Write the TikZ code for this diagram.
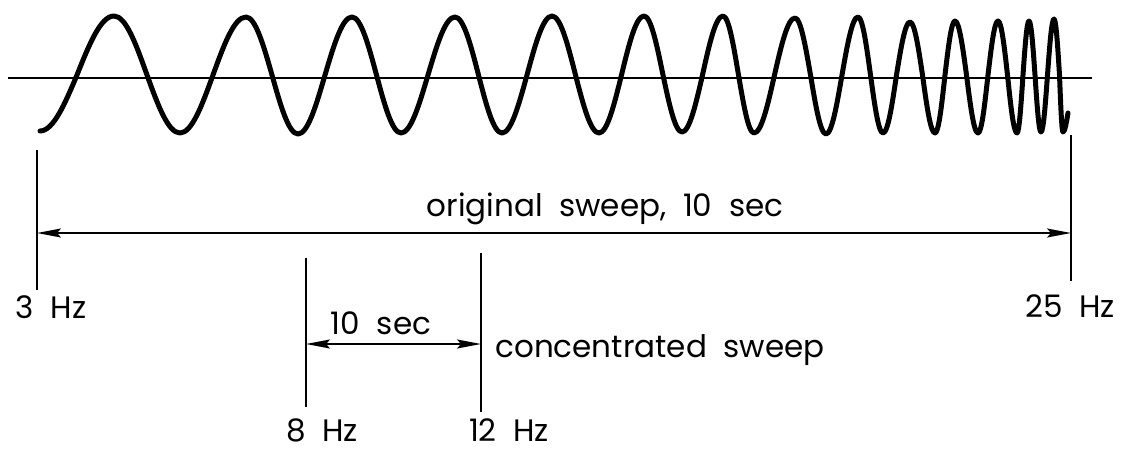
\documentclass[tikz,border=0pt]{standalone}
\usepackage{fontspec}
\setmainfont{Poppins}[WordSpace=2]
\usetikzlibrary{arrows.meta}

\begin{document}
\begin{tikzpicture}[x=0.5pt,y=-0.5pt,
  wave/.style={line width=2.5pt, line join=round, line cap=round},
  tick/.style={line width=0.9pt},
  span/.style={line width=0.8pt,
    {Stealth[length=12pt,width=4.5pt,inset=2pt]}-{Stealth[length=12pt,width=4.5pt,inset=2pt]}},
  lbl/.style={font=\fontsize{15.5}{18}\selectfont, inner sep=0pt, anchor=base}]
\useasboundingbox (0,0) rectangle (1131,449);

% axis and the sweep
\coordinate (axisL) at (8,78);
\coordinate (axisR) at (1092,78);
\draw[line width=0.9pt] (axisL) -- (axisR);
\draw[wave] (40,131) foreach \m/\e/\ye in {
  77/114/16, 147/180/133, 213/246/17, 272/298/134, 325/352/17,
  376.5/401/133, 428/455/17, 478.5/502/133, 527/552/16, 575.5/599/133,
  621.5/644/16, 663/682/132, 702.5/723/16, 738.5/754/133, 774.5/795/18,
  810.5/826/134, 842/858/17, 870.5/883/133, 896.5/910/22, 922.5/935/133,
  945/955/21, 966.5/978/133, 988/998/21, 1007.5/1017/133, 1023/1029/21,
  1035/1041/132, 1047.5/1054/19, 1059.5/1063/132
} { cos (\m,75) sin (\e,\ye) } cos (1068,113);

% limits of the sweeps
\foreach \name/\x/\top/\bot in {
  t3/37/150/290, t25/1071/135/281, t8/306/258/407, t12/481/253/412
} {
  \coordinate (\name top) at (\x,\top);
  \coordinate (\name bot) at (\x,\bot);
  \draw[tick] (\name top) -- (\name bot);
}

\coordinate (origL) at (37,233);
\coordinate (origR) at (1071,233);
\draw[span] (origL) -- (origR);
\coordinate (concL) at (306,344);
\coordinate (concR) at (481,344);
\draw[span] (concL) -- (concR);

\node[lbl] (orig) at (605,217) {original sweep, 10 sec};
\node[lbl] (dur) at (381,335) {10 sec};
\node[lbl, anchor=base west] (conc) at (495,357) {concentrated sweep};
\foreach \name/\x/\y/\txt in {
  f3/51/318/3 Hz, f25/1070/317/25 Hz, f8/322/441/8 Hz, f12/509/441/12 Hz
} {
  \node[lbl] (\name) at (\x,\y) {\txt};
}
\end{tikzpicture}
\end{document}
